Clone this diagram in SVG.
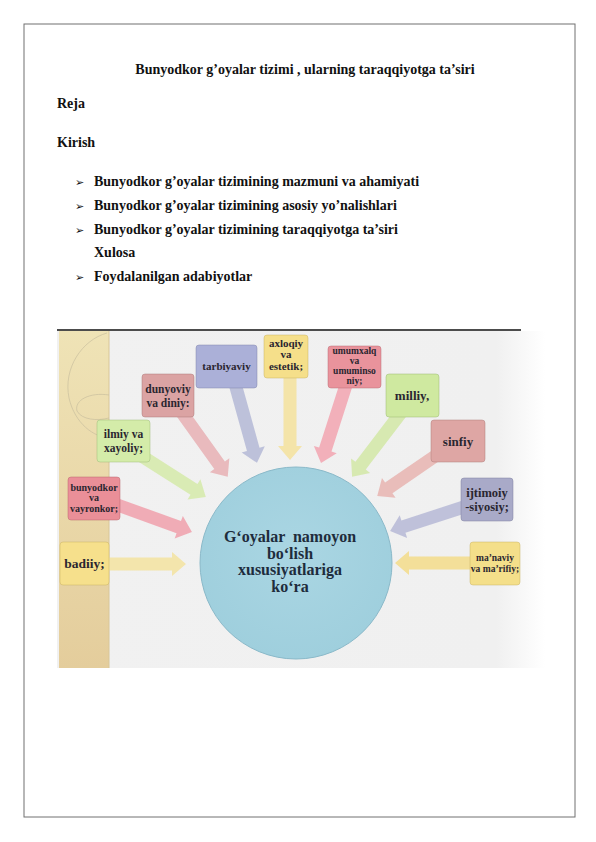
<svg xmlns="http://www.w3.org/2000/svg" width="596" height="842" viewBox="0 0 596 842">
<defs>
<style>
.doc{font-family:"Liberation Serif","Times New Roman",serif;font-weight:bold;font-size:14px;fill:#111}
.bul{font-family:"DejaVu Sans",sans-serif;font-size:11px;fill:#111}
.bx{stroke-width:0.8;stroke-opacity:0.6}
.lbl{font-family:"Liberation Serif","Times New Roman",serif;font-weight:bold;fill:#2a2630;text-anchor:middle}
.arr{opacity:0.85}
.ctr{font-family:"Liberation Serif","Times New Roman",serif;font-weight:bold;font-size:16px;fill:#1e2c3c;text-anchor:middle}
</style>
<linearGradient id="bg" x1="0" y1="0" x2="1" y2="0">
<stop offset="0" stop-color="#f1f1f1"/><stop offset="0.9" stop-color="#f0f0f0"/><stop offset="1" stop-color="#ffffff"/>
</linearGradient>
<linearGradient id="strip" x1="0" y1="0" x2="0" y2="1">
<stop offset="0" stop-color="#efe3b6"/><stop offset="1" stop-color="#e4cd9c"/>
</linearGradient>
<radialGradient id="circ" cx="0.5" cy="0.45" r="0.55">
<stop offset="0" stop-color="#aad6e3"/><stop offset="1" stop-color="#9fcfdd"/>
</radialGradient>
</defs>
<rect width="596" height="842" fill="#fff"/>
<rect x="24" y="24" width="551" height="793" fill="none" stroke="#707070" stroke-width="1"/>

<g id="text">
<text class="doc" x="305" y="74" text-anchor="middle">Bunyodkor g’oyalar tizimi , ularning taraqqiyotga ta’siri</text>
<text class="doc" x="57" y="108">Reja</text>
<text class="doc" x="57" y="147">Kirish</text>
<text class="bul" x="75" y="186">➢</text>
<text class="doc" x="94" y="186">Bunyodkor g’oyalar tizimining mazmuni va ahamiyati</text>
<text class="bul" x="75" y="210">➢</text>
<text class="doc" x="94" y="210">Bunyodkor g’oyalar tizimining asosiy yo’nalishlari</text>
<text class="bul" x="75" y="234">➢</text>
<text class="doc" x="94" y="234">Bunyodkor g’oyalar tizimining taraqqiyotga ta’siri</text>
<text class="doc" x="94" y="257">Xulosa</text>
<text class="bul" x="75" y="281">➢</text>
<text class="doc" x="94" y="281">Foydalanilgan adabiyotlar</text>
</g>

<g id="background">
<rect x="57" y="331" width="488" height="337" fill="url(#bg)"/>
<rect x="59" y="331" width="50" height="337" fill="url(#strip)"/>
<line x1="109" y1="331" x2="109" y2="668" stroke="#d8c698" stroke-width="1"/>
<path d="M107,333 C82,340 63,368 69,398 C75,424 94,437 109,438" fill="none" stroke="#c9bf9e" stroke-width="1" opacity="0.7"/>
<path d="M109,395 C90,392 74,400 77,411 C82,420 97,421 109,418" fill="none" stroke="#c9bf9e" stroke-width="1" opacity="0.7"/>
<line x1="57" y1="330" x2="521" y2="330" stroke="#111" stroke-width="1.5"/>
</g>

<g id="connectors">
<polygon class="arr" fill="#f3e3a0" points="0,-6.5 72,-6.5 72,-12 86,0 72,12 72,6.5 0,6.5" transform="translate(100,564)"/>
<polygon class="arr" fill="#f3dc8a" points="0,-6.5 71,-6.5 71,-12 85,0 71,12 71,6.5 0,6.5" transform="translate(480,563) rotate(180)"/>
<polygon class="arr" fill="#f0a0ab" points="0,-6.5 71,-6.5 71,-12 85,0 71,12 71,6.5 0,6.5" transform="translate(112,503) rotate(19.9)"/>
<polygon class="arr" fill="#d5eaa9" points="0,-6.5 64,-6.5 64,-12 78,0 64,12 64,6.5 0,6.5" transform="translate(140,455) rotate(32.5)"/>
<polygon class="arr" fill="#e8b0b4" points="0,-6.5 68,-6.5 68,-12 82,0 68,12 68,6.5 0,6.5" transform="translate(180,410) rotate(54.4)"/>
<polygon class="arr" fill="#b4b8d6" points="0,-6.5 72,-6.5 72,-12 86,0 72,12 72,6.5 0,6.5" transform="translate(234,380) rotate(74.5)"/>
<polygon class="arr" fill="#f5e29c" points="0,-6.5 74,-6.5 74,-12 88,0 74,12 74,6.5 0,6.5" transform="translate(290,372) rotate(90)"/>
<polygon class="arr" fill="#f2a4b0" points="0,-6.5 71,-6.5 71,-12 85,0 71,12 71,6.5 0,6.5" transform="translate(347,382) rotate(107.8)"/>
<polygon class="arr" fill="#d2e8a6" points="0,-6.5 70,-6.5 70,-12 84,0 70,12 70,6.5 0,6.5" transform="translate(403,410) rotate(127.3)"/>
<polygon class="arr" fill="#e8b4b0" points="0,-6.5 67,-6.5 67,-12 81,0 67,12 67,6.5 0,6.5" transform="translate(444,450) rotate(145.5)"/>
<polygon class="arr" fill="#b6b9d6" points="0,-6.5 70,-6.5 70,-12 84,0 70,12 70,6.5 0,6.5" transform="translate(470,505) rotate(162)"/>
</g>

<g id="center">
<circle cx="296" cy="563" r="96" fill="url(#circ)" stroke="#8ab9c9" stroke-width="1"/>
<text class="ctr" x="290" y="542" xml:space="preserve">G‘oyalar  namoyon</text>
<text class="ctr" x="290" y="558.5">bo‘lish</text>
<text class="ctr" x="290" y="575">xususiyatlariga</text>
<text class="ctr" x="290" y="591.5">ko‘ra</text>
</g>

<g id="tarbiyaviy">
<rect class="bx" x="196" y="345" width="61" height="43" rx="3" fill="#abb0d8" stroke="#7e82a8"/>
<text class="lbl" x="226.5" y="370" font-size="11" fill="#2a2e4a">tarbiyaviy</text>
</g>
<g id="axloqiy">
<rect class="bx" x="264" y="335" width="44" height="43" rx="3" fill="#f5df8a" stroke="#c9b060"/>
<text class="lbl" x="286" y="347" font-size="11">axloqiy</text>
<text class="lbl" x="286" y="358" font-size="11">va</text>
<text class="lbl" x="286" y="370" font-size="11">estetik;</text>
</g>
<g id="umumxalq">
<rect class="bx" x="328" y="346" width="53" height="42" rx="3" fill="#e9939c" stroke="#b86a72"/>
<text class="lbl" x="354.5" y="354" font-size="9.5">umumxalq</text>
<text class="lbl" x="354.5" y="364" font-size="9.5">va</text>
<text class="lbl" x="354.5" y="374" font-size="9.5">umuminso</text>
<text class="lbl" x="354.5" y="384" font-size="9.5">niy;</text>
</g>
<g id="dunyoviy">
<rect class="bx" x="142" y="374" width="52" height="43" rx="3" fill="#dba3a3" stroke="#aa7878"/>
<text class="lbl" x="168" y="393" font-size="11.5">dunyoviy</text>
<text class="lbl" x="168" y="407" font-size="11.5">va diniy:</text>
</g>
<g id="milliy">
<rect class="bx" x="386" y="374" width="53" height="43" rx="3" fill="#cfe9a0" stroke="#98b870"/>
<text class="lbl" x="412" y="400" font-size="13" fill="#1d2a12">milliy,</text>
</g>
<g id="ilmiy">
<rect class="bx" x="97" y="420" width="53" height="42" rx="3" fill="#d4eca9" stroke="#9cba78"/>
<text class="lbl" x="123.5" y="438" font-size="11.5">ilmiy va</text>
<text class="lbl" x="123.5" y="452" font-size="11.5">xayoliy;</text>
</g>
<g id="sinfiy">
<rect class="bx" x="431" y="420" width="54" height="42" rx="3" fill="#dea6a4" stroke="#ad7a78"/>
<text class="lbl" x="458" y="446" font-size="13">sinfiy</text>
</g>
<g id="bunyodkor">
<rect class="bx" x="68" y="477" width="52" height="43" rx="3" fill="#ea8f98" stroke="#b8626a"/>
<text class="lbl" x="94" y="491" font-size="10">bunyodkor</text>
<text class="lbl" x="94" y="501" font-size="10">va</text>
<text class="lbl" x="94" y="512" font-size="10">vayronkor;</text>
</g>
<g id="ijtimoiy">
<rect class="bx" x="461" y="478" width="52" height="43" rx="3" fill="#a9aac8" stroke="#7a7c9c"/>
<text class="lbl" x="487" y="497" font-size="12.5">ijtimoiy</text>
<text class="lbl" x="487" y="511" font-size="12.5">-siyosiy;</text>
</g>
<g id="badiiy">
<rect class="bx" x="60" y="542" width="49" height="43" rx="3" fill="#f6e08c" stroke="#c8b060"/>
<text class="lbl" x="84.5" y="568" font-size="13.5">badiiy;</text>
</g>
<g id="manaviy">
<rect class="bx" x="470" y="542" width="50" height="43" rx="3" fill="#f4df8a" stroke="#c8b060"/>
<text class="lbl" x="495" y="561" font-size="9.5">ma’naviy</text>
<text class="lbl" x="495" y="572" font-size="9.5">va ma’rifiy;</text>
</g>
</svg>
